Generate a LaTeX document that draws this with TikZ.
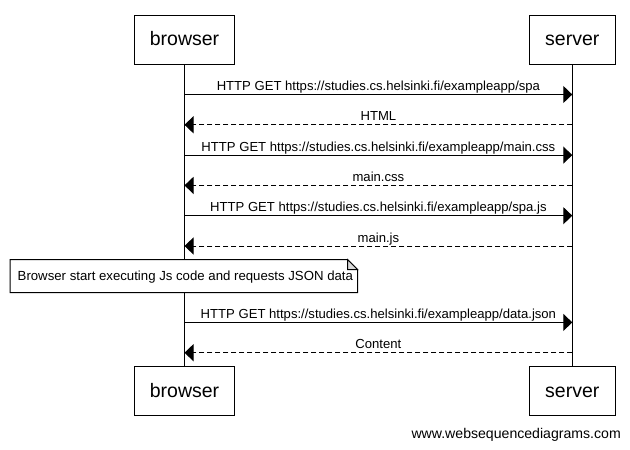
\documentclass[tikz,border=0pt]{standalone}
\usepackage{fontspec}
\setmainfont{Liberation Sans}
\usetikzlibrary{arrows.meta}

\begin{document}
\begin{tikzpicture}[x=1pt,y=-1pt,
	actor/.style={draw,fill=white,line width=1pt,minimum height=49pt,inner sep=0pt,text height=12.4pt,text depth=0pt,font=\fontsize{19.5}{23}\selectfont},
	call/.style={line width=1pt,-{Triangle[length=9pt,width=17pt]}},
	reply/.style={call,dash pattern=on 5pt off 3pt},
	msglabel/.style={midway,anchor=base,yshift=4pt,inner sep=0pt,font=\fontsize{13.1}{15}\selectfont}]
		\useasboundingbox (0,0) rectangle (630,450);
		
		% Actors
		\node[actor,minimum width=100.5pt] (bt) at (184.5,39.5) {browser};
		\node[actor,minimum width=86pt] (st) at (572.3,39.5) {server};
		\node[actor,minimum width=100.5pt] (bb) at (184.5,391) {browser};
		\node[actor,minimum width=86pt] (sb) at (572.3,391) {server};
		
		% Lifelines
		\draw[line width=1pt] (bt) -- (bb);
		\draw[line width=1pt] (st) -- (sb);
		
		% Define points
		\coordinate (b1) at (184.5,94.5);  \coordinate (s1) at (572.3,94.5);
		\coordinate (b2) at (184.5,124.8); \coordinate (s2) at (572.3,124.8);
		\coordinate (b3) at (184.5,155.1); \coordinate (s3) at (572.3,155.1);
		\coordinate (b4) at (184.5,185.4); \coordinate (s4) at (572.3,185.4);
		\coordinate (b5) at (184.5,215.7); \coordinate (s5) at (572.3,215.7);
		\coordinate (b6) at (184.5,246);   \coordinate (s6) at (572.3,246);
		\coordinate (b7) at (184.5,322.4); \coordinate (s7) at (572.3,322.4);
		\coordinate (b8) at (184.5,352.7); \coordinate (s8) at (572.3,352.7);
		
		% Messages
		\draw[call] (b1) -- (s1) node[msglabel] {HTTP GET https://studies.cs.helsinki.fi/exampleapp/spa};
		\draw[reply] (s2) -- (b2) node[msglabel] {HTML};
		\draw[call] (b3) -- (s3) node[msglabel] {HTTP GET https://studies.cs.helsinki.fi/exampleapp/main.css};
		\draw[reply] (s4) -- (b4) node[msglabel] {main.css};
		\draw[call] (b5) -- (s5) node[msglabel] {HTTP GET https://studies.cs.helsinki.fi/exampleapp/spa.js};
		\draw[reply] (s6) -- (b6) node[msglabel] {main.js};
		\draw[call] (b7) -- (s7) node[msglabel] {HTTP GET https://studies.cs.helsinki.fi/exampleapp/data.json};
		\draw[reply] (s8) -- (b8) node[msglabel] {Content};
		
		% Note
		\draw[line width=1pt,fill=white] (10,259.5) -- (347.5,259.5) -- (357.5,269.5) -- (357.5,292.5) -- (10,292.5) -- cycle;
		\draw[line width=1pt,fill=black!15] (347.5,259.5) -- (347.5,269.5) -- (357.5,269.5) -- cycle;
		\node[anchor=base west,inner sep=0pt,font=\fontsize{13.2}{15}\selectfont] (note) at (17.5,280.7) {Browser start executing Js code and requests JSON data};
		
		% Footer
		\node[anchor=base east,inner sep=0pt,font=\fontsize{14.1}{16}\selectfont] (site) at (621,438.5) {www.websequencediagrams.com};
	\end{tikzpicture}
\end{document}
